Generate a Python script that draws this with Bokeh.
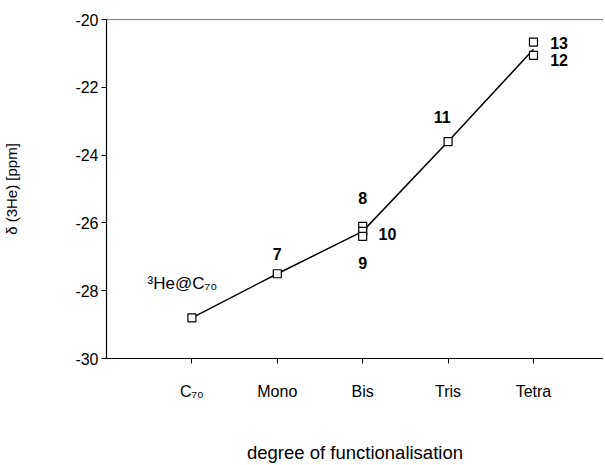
import math
from bokeh.plotting import figure
from bokeh.models import Range1d, FixedTicker, Span, Label
from bokeh.core.properties import value
from bokeh.embed import file_html
from bokeh.resources import INLINE

# ---- data ----
categories = ["C\u2087\u2080", "Mono", "Bis", "Tris", "Tetra"]
cat_pos = [1, 2, 3, 4, 5]
# individual compounds
pt_x = [1, 2, 3, 3, 3, 4, 5, 5]
pt_y = [-28.8, -27.5, -26.1, -26.25, -26.4, -23.6, -20.67, -21.06]
# connecting line (mean per degree)
line_x = [1, 2, 3, 4, 5]
line_y = [-28.8, -27.5, -26.25, -23.6, -20.88]
# point labels
lab_text = ["7", "8", "10", "9", "11", "13", "12"]
lab_x = [2.0, 3.0, 3.29, 3.0, 3.93, 5.3, 5.3]
lab_y = [-26.91, -25.28, -26.32, -27.17, -22.89, -20.68, -21.18]
y_ticks = [-30, -28, -26, -24, -22, -20]
y_tick_labels = ["-30", "-28", "-26", "-24", "-22", "-20"]

FONT = "Liberation Sans"
W, H = 603, 465

p = figure(width=W, height=H, output_backend="svg", toolbar_location=None,
           x_range=Range1d(0, 5.82), y_range=Range1d(-30, -20),
           min_border_left=105, min_border_top=19, min_border_right=0,
           min_border_bottom=H - 358)
p.outline_line_color = None
p.xgrid.visible = False
p.ygrid.visible = False
p.background_fill_color = "white"
p.border_fill_color = "white"

# axes
p.xaxis.ticker = FixedTicker(ticks=cat_pos)
p.xaxis.major_label_overrides = {c: t for c, t in zip(cat_pos, categories)}
p.yaxis.ticker = FixedTicker(ticks=y_ticks)
p.yaxis.major_label_overrides = {t: s for t, s in zip(y_ticks, y_tick_labels)}
for ax in (p.xaxis[0], p.yaxis[0]):
    ax.axis_line_color = "black"
    ax.axis_line_width = 1.2
    ax.major_tick_line_color = "black"
    ax.major_tick_in = 0
    ax.major_tick_out = 5
    ax.minor_tick_line_color = None
    ax.major_label_text_font = FONT
    ax.major_label_text_font_size = "16px"
    ax.major_label_text_color = "black"
    ax.axis_label_text_font = FONT
    ax.axis_label_text_font_style = "normal"
    ax.axis_label_text_color = "black"
p.xaxis.major_label_standoff = 19
p.yaxis.major_label_standoff = 3

p.yaxis.axis_label = "\u03b4 (3He) [ppm]"
p.yaxis.axis_label_text_font_size = "15px"
p.yaxis.axis_label_standoff = 52

p.xaxis.axis_label = "degree of functionalisation"
p.xaxis.axis_label_text_font_size = "18.5px"
p.xaxis.axis_label_standoff = 39

# top frame line
p.add_layout(Span(location=-20, dimension="width", line_color="black", line_width=1.2))

# line and markers
p.line(line_x, line_y, line_color="black", line_width=1.5)
p.scatter(pt_x, pt_y, marker="square", size=8, fill_color="white",
          line_color="black", line_width=1.2)

# point labels
p.text(lab_x, lab_y, text=lab_text, text_font=value(FONT), text_font_size="16px",
       text_font_style="bold", text_align="center", text_baseline="middle",
       text_color="black")

# 3He@C70 annotation
p.add_layout(Label(x=0.89, y=-27.8, text="\u00b3He@C\u2087\u2080", text_font=FONT,
                   text_font_size="17px", text_align="center", text_baseline="middle",
                   text_color="black"))

open("out.html", "w").write(file_html(p, INLINE))
